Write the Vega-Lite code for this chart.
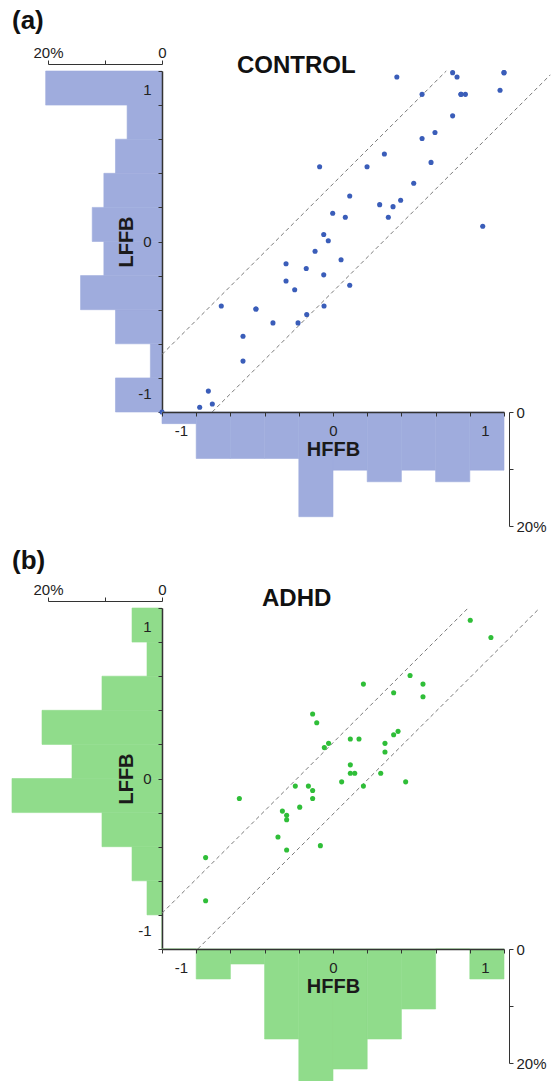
{
  "$schema": "https://vega.github.io/schema/vega-lite/v6.json",
  "padding": {"left": 11, "top": 8, "right": 0, "bottom": 0},
  "spacing": 14,
  "datasets": {
    "ctrl_pts": [
      {"x": 0.42, "y": 1.085}, {"x": 0.787, "y": 1.114}, {"x": 0.816, "y": 1.085}, {"x": 1.125, "y": 1.114},
      {"x": 0.586, "y": 0.971}, {"x": 0.842, "y": 0.971}, {"x": 0.871, "y": 0.971}, {"x": 1.099, "y": 0.998},
      {"x": 0.787, "y": 0.829}, {"x": 0.671, "y": 0.719}, {"x": 0.586, "y": 0.68}, {"x": 0.338, "y": 0.577},
      {"x": -0.088, "y": 0.493}, {"x": 0.224, "y": 0.493}, {"x": 0.645, "y": 0.522}, {"x": 0.531, "y": 0.384},
      {"x": 0.11, "y": 0.3}, {"x": 0.307, "y": 0.243}, {"x": 0.445, "y": 0.272}, {"x": 0.395, "y": 0.23},
      {"x": 0.364, "y": 0.16}, {"x": -0.002, "y": 0.186}, {"x": 0.081, "y": 0.16}, {"x": 0.985, "y": 0.101},
      {"x": -0.061, "y": 0.046}, {"x": -0.031, "y": 0.005}, {"x": -0.118, "y": -0.064}, {"x": 0.053, "y": -0.12},
      {"x": -0.309, "y": -0.147}, {"x": -0.176, "y": -0.178}, {"x": -0.309, "y": -0.261}, {"x": -0.061, "y": -0.22},
      {"x": -0.252, "y": -0.318}, {"x": 0.11, "y": -0.289}, {"x": -0.735, "y": -0.426}, {"x": -0.507, "y": -0.445},
      {"x": -0.395, "y": -0.537}, {"x": -0.592, "y": -0.625}, {"x": -0.592, "y": -0.789}, {"x": -0.82, "y": -0.987},
      {"x": -0.877, "y": -1.094}, {"x": -0.794, "y": -1.072}, {"x": -1.125, "y": -1.125}, {"x": -0.23, "y": -0.537},
      {"x": -0.173, "y": -0.482}, {"x": -0.059, "y": -0.426}, {"x": -0.507, "y": -0.445}, {"x": 0.842, "y": 0.971},
      {"x": 1.125, "y": 1.114}
    ],
    "adhd_pts": [
      {"x": 0.903, "y": 1.044}, {"x": 1.039, "y": 0.93}, {"x": 0.507, "y": 0.68}, {"x": 0.2, "y": 0.623},
      {"x": 0.592, "y": 0.623}, {"x": 0.399, "y": 0.566}, {"x": 0.592, "y": 0.539}, {"x": -0.134, "y": 0.426},
      {"x": -0.107, "y": 0.368}, {"x": 0.114, "y": 0.261}, {"x": 0.171, "y": 0.261}, {"x": 0.399, "y": 0.289},
      {"x": 0.428, "y": 0.311}, {"x": -0.029, "y": 0.232}, {"x": -0.057, "y": 0.204}, {"x": 0.342, "y": 0.232},
      {"x": 0.342, "y": 0.175}, {"x": 0.114, "y": 0.09}, {"x": 0.114, "y": 0.035}, {"x": 0.143, "y": 0.035},
      {"x": 0.314, "y": 0.035}, {"x": 0.057, "y": -0.022}, {"x": 0.478, "y": -0.022}, {"x": -0.248, "y": -0.05},
      {"x": -0.162, "y": -0.05}, {"x": -0.134, "y": -0.079}, {"x": 0.2, "y": -0.05}, {"x": -0.616, "y": -0.132},
      {"x": -0.134, "y": -0.132}, {"x": -0.219, "y": -0.189}, {"x": -0.333, "y": -0.215}, {"x": -0.305, "y": -0.243},
      {"x": -0.305, "y": -0.272}, {"x": -0.362, "y": -0.386}, {"x": -0.305, "y": -0.472}, {"x": -0.083, "y": -0.443},
      {"x": -0.838, "y": -0.522}, {"x": -0.838, "y": -0.807}
    ],
    "ctrl_lines": [
      {"line": "upper", "x": -1.125, "y": -0.745}, {"line": "upper", "x": 0.745, "y": 1.125},
      {"line": "lower", "x": -0.795, "y": -1.125}, {"line": "lower", "x": 1.43, "y": 1.1}
    ],
    "adhd_lines": [
      {"line": "upper", "x": -1.125, "y": -0.889}, {"line": "upper", "x": 0.889, "y": 1.125},
      {"line": "lower", "x": -0.89, "y": -1.125}, {"line": "lower", "x": 1.35, "y": 1.115}
    ],
    "ctrl_hy": [
      {"b0": -1.125, "b1": -0.9, "pct": 8.16}, {"b0": -0.9, "b1": -0.675, "pct": 2.04},
      {"b0": -0.675, "b1": -0.45, "pct": 8.16}, {"b0": -0.45, "b1": -0.225, "pct": 14.29},
      {"b0": -0.225, "b1": 0, "pct": 10.2}, {"b0": 0, "b1": 0.225, "pct": 12.24},
      {"b0": 0.225, "b1": 0.45, "pct": 10.2}, {"b0": 0.45, "b1": 0.675, "pct": 8.16},
      {"b0": 0.675, "b1": 0.9, "pct": 6.12}, {"b0": 0.9, "b1": 1.125, "pct": 20.41}
    ],
    "ctrl_hx": [
      {"b0": -1.125, "b1": -0.9, "pct": 2.04}, {"b0": -0.9, "b1": -0.675, "pct": 8.16},
      {"b0": -0.675, "b1": -0.45, "pct": 8.16}, {"b0": -0.45, "b1": -0.225, "pct": 8.16},
      {"b0": -0.225, "b1": 0, "pct": 18.37}, {"b0": 0, "b1": 0.225, "pct": 10.2},
      {"b0": 0.225, "b1": 0.45, "pct": 12.24}, {"b0": 0.45, "b1": 0.675, "pct": 10.2},
      {"b0": 0.675, "b1": 0.9, "pct": 12.24}, {"b0": 0.9, "b1": 1.125, "pct": 10.2}
    ],
    "adhd_hy": [
      {"b0": -1.125, "b1": -0.9, "pct": 0}, {"b0": -0.9, "b1": -0.675, "pct": 2.63},
      {"b0": -0.675, "b1": -0.45, "pct": 5.26}, {"b0": -0.45, "b1": -0.225, "pct": 10.53},
      {"b0": -0.225, "b1": 0, "pct": 26.32}, {"b0": 0, "b1": 0.225, "pct": 15.79},
      {"b0": 0.225, "b1": 0.45, "pct": 21.05}, {"b0": 0.45, "b1": 0.675, "pct": 10.53},
      {"b0": 0.675, "b1": 0.9, "pct": 2.63}, {"b0": 0.9, "b1": 1.125, "pct": 5.26}
    ],
    "adhd_hx": [
      {"b0": -1.125, "b1": -0.9, "pct": 0}, {"b0": -0.9, "b1": -0.675, "pct": 5.26},
      {"b0": -0.675, "b1": -0.45, "pct": 2.63}, {"b0": -0.45, "b1": -0.225, "pct": 15.79},
      {"b0": -0.225, "b1": 0, "pct": 23.68}, {"b0": 0, "b1": 0.225, "pct": 21.05},
      {"b0": 0.225, "b1": 0.45, "pct": 15.79}, {"b0": 0.45, "b1": 0.675, "pct": 10.53},
      {"b0": 0.675, "b1": 0.9, "pct": 0}, {"b0": 0.9, "b1": 1.125, "pct": 5.26}
    ]
  },
  "vconcat": [
    {
      "title": {"text": "(a)", "anchor": "start", "frame": "group", "dx": -36, "fontSize": 26, "fontWeight": "bold", "offset": 11},
      "columns": 2,
      "spacing": 0,
      "bounds": "flush",
      "concat": [
        {
          "width": 114, "height": 341,
          "data": {"name": "ctrl_hy"},
          "mark": {"type": "rect", "color": "#9FACDD", "stroke": "#9FACDD", "strokeWidth": 0.6},
          "encoding": {
            "y": {"field": "b0", "type": "quantitative", "scale": {"domain": [-1.125, 1.125], "nice": false, "zero": false},
              "axis": {"orient": "right", "zindex": 1, "values": [-1.125, -1, -0.9, -0.675, -0.45, -0.225, 0, 0.225, 0.45, 0.675, 0.9, 1, 1.125],
                "tickSize": -4, "tickOpacity": {"condition": {"test": "abs(datum.value)==1", "value": 0}, "value": 1},
                "labelExpr": "datum.value==-1?'-1':datum.value==0?'0':datum.value==1?'1':''",
                "labelAlign": "right", "labelBaseline": "middle", "labelPadding": -7, "domainWidth": 1.5,
                "title": "LFFB", "titleAngle": 270, "titleBaseline": "middle", "titleAlign": "center", "titlePadding": -36}},
            "y2": {"field": "b1"},
            "x": {"field": "pct", "type": "quantitative", "scale": {"domain": [0, 20], "reverse": true, "nice": false, "zero": false},
              "axis": {"orient": "top", "zindex": 1, "offset": 7, "values": [0, 10, 20], "labelExpr": "datum.value==20?'20%':datum.value==0?'0':''",
                "tickSize": 4, "labelPadding": 0, "title": null, "domainWidth": 1, "labelAlign": "center"}},
            "x2": {"datum": 0}
          }
        },
        {
          "width": 342, "height": 341,
          "title": {"text": "CONTROL", "anchor": "start", "frame": "group", "dx": 75, "fontSize": 24, "fontWeight": "bold", "baseline": "alphabetic", "offset": -28},
          "layer": [
            {
              "data": {"name": "ctrl_lines"},
              "mark": {"type": "line", "strokeDash": [4, 3], "color": "#7a7a7a", "strokeWidth": 1},
              "encoding": {
                "x": {"field": "x", "type": "quantitative", "scale": {"domain": [-1.125, 1.125], "nice": false, "zero": false}, "axis": null},
                "y": {"field": "y", "type": "quantitative", "scale": {"domain": [-1.125, 1.125], "nice": false, "zero": false}, "axis": null},
                "detail": {"field": "line"}
              }
            },
            {
              "data": {"name": "ctrl_pts"},
              "mark": {"type": "circle", "size": 26, "opacity": 1, "color": "#3A5DB9"},
              "encoding": {
                "x": {"field": "x", "type": "quantitative", "axis": null},
                "y": {"field": "y", "type": "quantitative", "axis": null}
              }
            }
          ]
        },
        {
          "width": 114, "height": 114,
          "data": {"values": []},
          "mark": "point"
        },
        {
          "width": 342, "height": 114,
          "data": {"name": "ctrl_hx"},
          "mark": {"type": "rect", "color": "#9FACDD", "stroke": "#9FACDD", "strokeWidth": 0.6},
          "encoding": {
            "x": {"field": "b0", "type": "quantitative", "scale": {"domain": [-1.125, 1.125], "nice": false, "zero": false},
              "axis": {"orient": "top", "zindex": 1, "values": [-1.125, -1, -0.9, -0.675, -0.45, -0.225, 0, 0.225, 0.45, 0.675, 0.9, 1, 1.125],
                "tickSize": -4, "tickOpacity": {"condition": {"test": "abs(datum.value)==1", "value": 0}, "value": 1},
                "labelExpr": "datum.value==-1?'-1':datum.value==0?'0':datum.value==1?'1':''",
                "labelAlign": "center", "labelBaseline": "middle", "labelPadding": -14, "domainWidth": 1.5,
                "title": "HFFB", "titleBaseline": "middle", "titlePadding": -37.5}},
            "x2": {"field": "b1"},
            "y": {"field": "pct", "type": "quantitative", "scale": {"domain": [0, 20], "reverse": true, "nice": false, "zero": false},
              "axis": {"orient": "right", "zindex": 1, "offset": 5, "values": [0, 10, 20], "labelExpr": "datum.value==20?'20%':datum.value==0?'0':''",
                "tickSize": 4, "labelPadding": 3, "title": null, "labelBaseline": "middle", "labelAlign": "left"}},
            "y2": {"datum": 0}
          }
        }
      ]
    },
    {
      "title": {"text": "(b)", "anchor": "start", "frame": "group", "dx": -36, "fontSize": 26, "fontWeight": "bold", "offset": 8},
      "columns": 2,
      "spacing": 0,
      "bounds": "flush",
      "concat": [
        {
          "width": 114, "height": 341,
          "data": {"name": "adhd_hy"},
          "mark": {"type": "rect", "color": "#90DC8B", "stroke": "#90DC8B", "strokeWidth": 0.6},
          "encoding": {
            "y": {"field": "b0", "type": "quantitative", "scale": {"domain": [-1.125, 1.125], "nice": false, "zero": false},
              "axis": {"orient": "right", "zindex": 1, "values": [-1.125, -1, -0.9, -0.675, -0.45, -0.225, 0, 0.225, 0.45, 0.675, 0.9, 1, 1.125],
                "tickSize": -4, "tickOpacity": {"condition": {"test": "abs(datum.value)==1", "value": 0}, "value": 1},
                "labelExpr": "datum.value==-1?'-1':datum.value==0?'0':datum.value==1?'1':''",
                "labelAlign": "right", "labelBaseline": "middle", "labelPadding": -7, "domainWidth": 1.5,
                "title": "LFFB", "titleAngle": 270, "titleBaseline": "middle", "titleAlign": "center", "titlePadding": -36}},
            "y2": {"field": "b1"},
            "x": {"field": "pct", "type": "quantitative", "scale": {"domain": [0, 20], "reverse": true, "nice": false, "zero": false},
              "axis": {"orient": "top", "zindex": 1, "offset": 7, "values": [0, 10, 20], "labelExpr": "datum.value==20?'20%':datum.value==0?'0':''",
                "tickSize": 4, "labelPadding": 0, "title": null, "domainWidth": 1, "labelAlign": "center"}},
            "x2": {"datum": 0}
          }
        },
        {
          "width": 342, "height": 341,
          "title": {"text": "ADHD", "anchor": "start", "frame": "group", "dx": 100, "fontSize": 24, "fontWeight": "bold", "baseline": "alphabetic", "offset": -24},
          "layer": [
            {
              "data": {"name": "adhd_lines"},
              "mark": {"type": "line", "strokeDash": [4, 3], "color": "#7a7a7a", "strokeWidth": 1},
              "encoding": {
                "x": {"field": "x", "type": "quantitative", "scale": {"domain": [-1.125, 1.125], "nice": false, "zero": false}, "axis": null},
                "y": {"field": "y", "type": "quantitative", "scale": {"domain": [-1.125, 1.125], "nice": false, "zero": false}, "axis": null},
                "detail": {"field": "line"}
              }
            },
            {
              "data": {"name": "adhd_pts"},
              "mark": {"type": "circle", "size": 26, "opacity": 1, "color": "#2FBE38"},
              "encoding": {
                "x": {"field": "x", "type": "quantitative", "axis": null},
                "y": {"field": "y", "type": "quantitative", "axis": null}
              }
            }
          ]
        },
        {
          "width": 114, "height": 114,
          "data": {"values": []},
          "mark": "point"
        },
        {
          "width": 342, "height": 114,
          "data": {"name": "adhd_hx"},
          "mark": {"type": "rect", "color": "#90DC8B", "stroke": "#90DC8B", "strokeWidth": 0.6},
          "encoding": {
            "x": {"field": "b0", "type": "quantitative", "scale": {"domain": [-1.125, 1.125], "nice": false, "zero": false},
              "axis": {"orient": "top", "zindex": 1, "values": [-1.125, -1, -0.9, -0.675, -0.45, -0.225, 0, 0.225, 0.45, 0.675, 0.9, 1, 1.125],
                "tickSize": -4, "tickOpacity": {"condition": {"test": "abs(datum.value)==1", "value": 0}, "value": 1},
                "labelExpr": "datum.value==-1?'-1':datum.value==0?'0':datum.value==1?'1':''",
                "labelAlign": "center", "labelBaseline": "middle", "labelPadding": -14, "domainWidth": 1.5,
                "title": "HFFB", "titleBaseline": "middle", "titlePadding": -37.5}},
            "x2": {"field": "b1"},
            "y": {"field": "pct", "type": "quantitative", "scale": {"domain": [0, 20], "reverse": true, "nice": false, "zero": false},
              "axis": {"orient": "right", "zindex": 1, "offset": 5, "values": [0, 10, 20], "labelExpr": "datum.value==20?'20%':datum.value==0?'0':''",
                "tickSize": 4, "labelPadding": 3, "title": null, "labelBaseline": "middle", "labelAlign": "left"}},
            "y2": {"datum": 0}
          }
        }
      ]
    }
  ],
  "config": {
    "font": "Liberation Sans",
    "view": {"stroke": null},
    "axis": {
      "grid": false, "labelFont": "Liberation Sans", "labelFontSize": 15, "labelColor": "#222222",
      "domainColor": "#333333", "tickColor": "#333333", "titleFont": "Liberation Sans", "titleFontSize": 20,
      "titleFontWeight": "bold", "titleColor": "#1a1a1a", "labelFlush": false, "labelOverlap": false, "minExtent": 0
    },
    "title": {"font": "Liberation Sans", "color": "#111111"}
  }
}
